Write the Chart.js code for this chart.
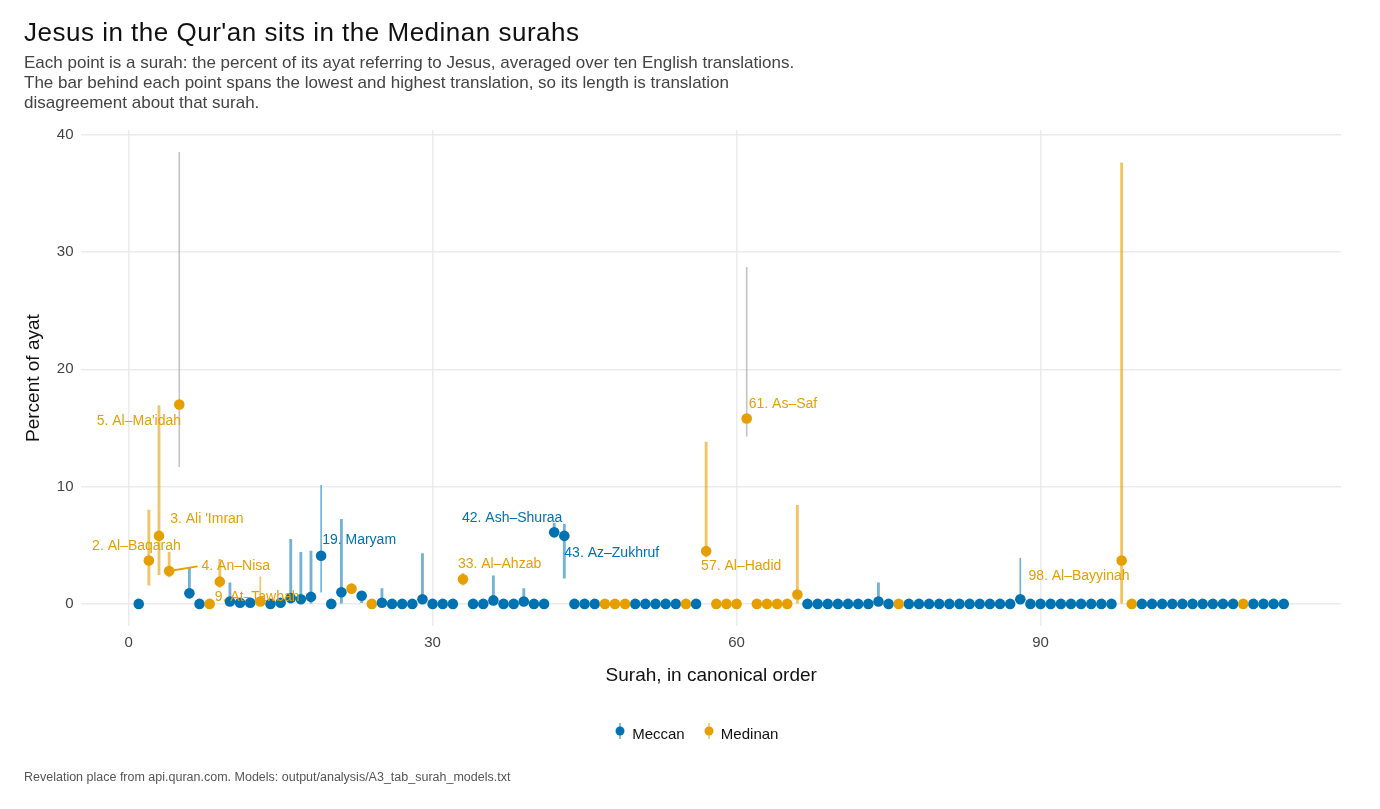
<!DOCTYPE html>
<html><head><meta charset="utf-8">
<script src="https://cdn.jsdelivr.net/npm/chart.js@4"></script>
<style>
body{margin:0;background:#fff;font-family:"Liberation Sans",Arial,sans-serif;}
#wrap{position:relative;width:1380px;height:809px;}
#title{position:absolute;left:24px;top:17px;font-size:26px;color:#111;letter-spacing:0.5px}
#sub{position:absolute;left:24px;top:53px;font-size:17px;line-height:20px;color:#444;width:780px}
#cap{position:absolute;left:24px;top:770px;font-size:12.5px;color:#555}
#leg{position:absolute;left:612px;top:723px;font-size:15px;color:#111}
#leg span{display:inline-block;margin-right:16px}
canvas{position:absolute;left:0;top:0}
</style></head><body>
<div id="wrap">
<canvas id="c" width="1380" height="809"></canvas>
<div id="title">Jesus in the Qur'an sits in the Medinan surahs</div>
<div id="sub">Each point is a surah: the percent of its ayat referring to Jesus, averaged over ten English translations. The bar behind each point spans the lowest and highest translation, so its length is translation disagreement about that surah.</div>
<div id="leg"><span><svg width="16" height="16"><line x1="8" y1="0" x2="8" y2="16" stroke="#0072B2" stroke-width="1.5" opacity="0.6"/><circle cx="8" cy="8" r="4.5" fill="#0072B2"/></svg> Meccan</span><span><svg width="16" height="16"><line x1="8" y1="0" x2="8" y2="16" stroke="#E69F00" stroke-width="1.5" opacity="0.6"/><circle cx="8" cy="8" r="4.5" fill="#E69F00"/></svg> Medinan</span></div>
<div id="cap">Revelation place from api.quran.com. Models: output/analysis/A3_tab_surah_models.txt</div>
</div>
<script>
var medinan = [2,3,4,5,8,9,13,22,24,33,47,48,49,55,57,58,59,60,61,62,63,64,65,66,76,98,99,110];
// mean percent per surah (1..114); default 0
var meanVals = {2:3.7,3:5.8,4:2.8,5:17.0,6:0.9,9:1.9,10:0.2,11:0.1,12:0.1,13:0.2,15:0.1,16:0.5,17:0.4,18:0.6,
  19:4.1,21:1.0,22:1.3,23:0.7,25:0.1,29:0.4,33:2.1,36:0.3,39:0.2,42:6.1,43:5.8,57:4.5,61:15.8,66:0.8,74:0.2,88:0.4,98:3.7};
// [surah, low, high] range across translations
var ranges = [[2,1.6,8.0],[3,2.5,16.9],[4,2.3,4.4],[5,11.7,38.5],[6,0.9,3.1],[9,1.4,3.8],[10,0,1.8],[13,0,2.3],
  [16,0,5.5],[17,0,4.4],[18,0,4.5],[19,1.0,10.1],[21,0,7.2],[23,0.1,0.7],[25,0,1.3],[29,0,4.3],[33,1.6,2.6],
  [36,0,2.4],[39,0,1.3],[42,6.1,6.9],[43,2.2,6.8],[57,4.0,13.8],[61,14.3,28.7],[66,0,8.4],[74,0,1.8],[88,0,3.9],[98,0,37.6]];
var thinGray = [5,61];
var thinSurahs = [13,19,88];
var labelTexts = ["5. Al–Ma'idah","3. Ali 'Imran","2. Al–Baqarah","4. An–Nisa","9. At–Tawbah","19. Maryam",
  "33. Al–Ahzab","42. Ash–Shuraa","43. Az–Zukhruf","57. Al–Hadid","61. As–Saf","98. Al–Bayyinah"];
var labelSurahs = [5,3,2,4,9,19,33,42,43,57,61,98];
var labelAt = [[-3.15,15.6],[4.1,7.2],[-3.6,4.9],[7.2,3.2],[8.5,0.6],[19.1,5.4],[32.5,3.35],[32.9,7.3],[43.0,4.35],[56.5,3.2],[61.2,17.0],[88.8,2.4]];
var xTicks = [0,30,60,90];
var yTicks = [0,10,20,30,40];

var MEC = '#0072B2', MED = '#E69F00';
var isMed = function(s){ return medinan.indexOf(s) >= 0; };
var mecPts = [], medPts = [];
for (var s = 1; s <= 114; s++) {
  var p = {x: s, y: meanVals[s] || 0};
  (isMed(s) ? medPts : mecPts).push(p);
}
var thickBars = [], thinBars = [];
ranges.forEach(function(r){
  var d = {x: r[0], y: [r[1], r[2]]};
  var col = thinGray.indexOf(r[0]) >= 0 ? 'rgba(150,150,150,0.55)' : (isMed(r[0]) ? 'rgba(230,159,0,0.6)' : 'rgba(0,114,178,0.55)');
  d.c = col;
  (thinGray.indexOf(r[0]) >= 0 || thinSurahs.indexOf(r[0]) >= 0 ? thinBars : thickBars).push(d);
});

var labelPlugin = {
  id: 'labels',
  afterDatasetsDraw: function(chart) {
    var ctx = chart.ctx, xs = chart.scales.x, ys = chart.scales.y;
    ctx.save();
    ctx.font = '14px "Liberation Sans", Arial, sans-serif';
    ctx.textBaseline = 'middle';
    labelTexts.forEach(function(t, i) {
      var s = labelSurahs[i];
      ctx.fillStyle = isMed(s) ? MED : MEC;
      var lx = xs.getPixelForValue(labelAt[i][0]), ly = ys.getPixelForValue(labelAt[i][1]);
      if (s === 4) {
        ctx.strokeStyle = MED; ctx.lineWidth = 2;
        ctx.beginPath();
        ctx.moveTo(xs.getPixelForValue(s), ys.getPixelForValue(meanVals[s]));
        ctx.lineTo(lx - 4, ly); ctx.stroke();
      }
      ctx.fillText(t, lx, ly);
    });
    ctx.restore();
  }
};

new Chart(document.getElementById('c'), {
  data: {
    datasets: [
      {type: 'bar', data: thinBars, barThickness: 1, grouped: false,
       backgroundColor: function(c){ return c.raw ? c.raw.c : '#999'; }, order: 3},
      {type: 'bar', data: thickBars, barThickness: 2.2, grouped: false,
       backgroundColor: function(c){ return c.raw ? c.raw.c : '#999'; }, order: 2},
      {type: 'scatter', label: 'Meccan', data: mecPts, backgroundColor: MEC, borderWidth: 0, pointRadius: 5.3, order: 1},
      {type: 'scatter', label: 'Medinan', data: medPts, backgroundColor: MED, borderWidth: 0, pointRadius: 5.3, order: 0}
    ]
  },
  options: {
    responsive: false, animation: false,
    layout: {padding: {top: 130, left: 18, right: 39, bottom: 118}},
    plugins: {legend: {display: false}, tooltip: {enabled: false}},
    scales: {
      x: {type: 'linear', min: -4.65, max: 119.65, offset: false,
          afterBuildTicks: function(a){ a.ticks = xTicks.map(function(v){ return {value: v}; }); },
          grid: {color: '#ebebeb', lineWidth: 1.5, drawTicks: false, offset: false}, border: {display: false},
          ticks: {color: '#444', font: {size: 15, family: '"Liberation Sans", Arial'}, padding: 8},
          title: {display: true, text: 'Surah, in canonical order', color: '#111', font: {size: 19, family: '"Liberation Sans", Arial'}, padding: {top: 4}}},
      y: {min: -1.9, max: 40.4,
          afterBuildTicks: function(a){ a.ticks = yTicks.map(function(v){ return {value: v}; }); },
          grid: {color: '#ebebeb', lineWidth: 1.5, drawTicks: false}, border: {display: false},
          ticks: {color: '#444', font: {size: 15, family: '"Liberation Sans", Arial'}, padding: 8},
          title: {display: true, text: 'Percent of ayat', color: '#111', font: {size: 19, family: '"Liberation Sans", Arial'}}}
    }
  },
  plugins: [labelPlugin]
});
</script>
</body></html>
